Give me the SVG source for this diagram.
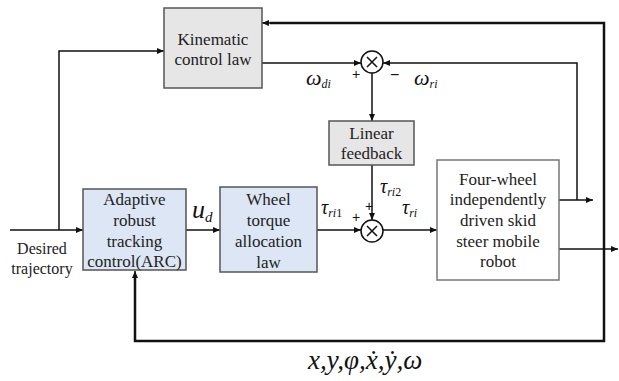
<svg xmlns="http://www.w3.org/2000/svg" width="619" height="381" viewBox="0 0 619 381">
<style>
.bx{stroke:#555;stroke-width:1.5}
.ln{fill:none;stroke:#111;stroke-width:1.5}
.sm{fill:#fff;stroke:#111;stroke-width:1.5}
</style>
<defs>
<marker id="ah" markerWidth="8" markerHeight="8" refX="7" refY="4" orient="auto" markerUnits="userSpaceOnUse">
<path d="M0,1 L7,4 L0,7 Z" fill="#111"/>
</marker>
</defs>
<rect width="619" height="381" fill="#fff"/>
<g id="connectors" class="ln">
<polyline points="10,230 83,230" marker-end="url(#ah)"/>
<polyline points="59,230 59,51 164,51" marker-end="url(#ah)"/>
<polyline points="262,63 361,63" marker-end="url(#ah)"/>
<polyline points="372,73 372,121" marker-end="url(#ah)"/>
<polyline points="372,165 372,220" marker-end="url(#ah)"/>
<polyline points="186,230 220,230" marker-end="url(#ah)"/>
<polyline points="317,230 361,230" marker-end="url(#ah)"/>
<polyline points="383,230 437,230" marker-end="url(#ah)"/>
<polyline points="559,200 593,200" marker-end="url(#ah)"/>
<polyline points="577,200 577,63 383,63" marker-end="url(#ah)"/>
<polyline points="559,249 618,249" marker-end="url(#ah)"/>
<polyline points="604,249 604,341 135,341 135,277" stroke-width="2.5"/>
<polyline points="135,280 135,271" marker-end="url(#ah)"/>
<polyline points="604,249 604,23 270,23" stroke-width="2.5"/>
<polyline points="272,23 262,23" marker-end="url(#ah)"/>
</g>
<g id="kinematic">
<rect class="bx" x="164" y="8" width="98" height="80" fill="#e6e6e6"/>
<text x="213" y="45" font-family="Times New Roman" font-size="17" fill="#222" text-anchor="middle">Kinematic</text>
<text x="213" y="65" font-family="Times New Roman" font-size="17" fill="#222" text-anchor="middle">control law</text>
</g>
<g id="linear">
<rect class="bx" x="329" y="121" width="85" height="44" fill="#e6e6e6"/>
<text x="371.5" y="139" font-family="Times New Roman" font-size="17" fill="#222" text-anchor="middle">Linear</text>
<text x="371.5" y="159" font-family="Times New Roman" font-size="17" fill="#222" text-anchor="middle">feedback</text>
</g>
<g id="arc">
<rect class="bx" x="83" y="189" width="103" height="81" fill="#dce6f4"/>
<text x="134.5" y="205" font-family="Times New Roman" font-size="17" fill="#222" text-anchor="middle">Adaptive</text>
<text x="134.5" y="226" font-family="Times New Roman" font-size="17" fill="#222" text-anchor="middle">robust</text>
<text x="134.5" y="247" font-family="Times New Roman" font-size="17" fill="#222" text-anchor="middle">tracking</text>
<text x="134.5" y="267" font-family="Times New Roman" font-size="17" fill="#222" text-anchor="middle">control(ARC)</text>
</g>
<g id="wheel">
<rect class="bx" x="220" y="187" width="97" height="85" fill="#dce6f4"/>
<text x="268.5" y="205" font-family="Times New Roman" font-size="17" fill="#222" text-anchor="middle">Wheel</text>
<text x="268.5" y="226" font-family="Times New Roman" font-size="17" fill="#222" text-anchor="middle">torque</text>
<text x="268.5" y="247" font-family="Times New Roman" font-size="17" fill="#222" text-anchor="middle">allocation</text>
<text x="268.5" y="268" font-family="Times New Roman" font-size="17" fill="#222" text-anchor="middle">law</text>
</g>
<g id="robot">
<rect x="437" y="160" width="122" height="120" fill="#fff" stroke="#777" stroke-width="1.5"/>
<text x="498" y="185" font-family="Times New Roman" font-size="17" fill="#222" text-anchor="middle">Four-wheel</text>
<text x="498" y="205" font-family="Times New Roman" font-size="17" fill="#222" text-anchor="middle">independently</text>
<text x="498" y="226" font-family="Times New Roman" font-size="17" fill="#222" text-anchor="middle">driven skid</text>
<text x="498" y="247" font-family="Times New Roman" font-size="17" fill="#222" text-anchor="middle">steer mobile</text>
<text x="498" y="267" font-family="Times New Roman" font-size="17" fill="#222" text-anchor="middle">robot</text>
</g>
<g id="sum1" class="sm">
<circle cx="372" cy="62" r="11"/>
<path d="M367,57 L377,67 M377,57 L367,67"/>
</g>
<g id="sum2" class="sm">
<circle cx="372" cy="231" r="11"/>
<path d="M367,226 L377,236 M377,226 L367,236"/>
</g>
<g id="labels">
<text x="42" y="254" font-family="Times New Roman" font-size="16" fill="#222" text-anchor="middle">Desired</text>
<text x="42" y="274" font-family="Times New Roman" font-size="16" fill="#222" text-anchor="middle">trajectory</text>
<text x="306" y="85" font-family="Times New Roman" font-style="italic" font-size="22" fill="#111">ω<tspan font-size="12" dy="3">di</tspan></text>
<text x="414" y="85" font-family="Times New Roman" font-style="italic" font-size="22" fill="#111">ω<tspan font-size="12" dy="3">ri</tspan></text>
<text x="192" y="218" font-family="Times New Roman" font-style="italic" font-size="26" fill="#111">u<tspan font-size="15" dy="4">d</tspan></text>
<text x="321" y="214" font-family="Times New Roman" font-style="italic" font-size="20" fill="#111">τ<tspan font-size="12" dy="3">ri</tspan><tspan font-style="normal" font-size="12">1</tspan></text>
<text x="380" y="193" font-family="Times New Roman" font-style="italic" font-size="20" fill="#111">τ<tspan font-size="12" dy="3">ri</tspan><tspan font-style="normal" font-size="12">2</tspan></text>
<text x="402" y="214" font-family="Times New Roman" font-style="italic" font-size="20" fill="#111">τ<tspan font-size="12" dy="3">ri</tspan></text>
<text x="308" y="369" font-family="Times New Roman" font-style="italic" font-size="27" fill="#111">x,y,φ,ẋ,ẏ,ω</text>
<text x="352" y="79" font-family="Liberation Sans" font-size="14" fill="#111">+</text>
<text x="390" y="80" font-family="Liberation Sans" font-size="16" fill="#111">−</text>
<text x="365" y="211" font-family="Liberation Sans" font-size="14" fill="#111">+</text>
<text x="352" y="222" font-family="Liberation Sans" font-size="14" fill="#111">+</text>
</g>
</svg>
